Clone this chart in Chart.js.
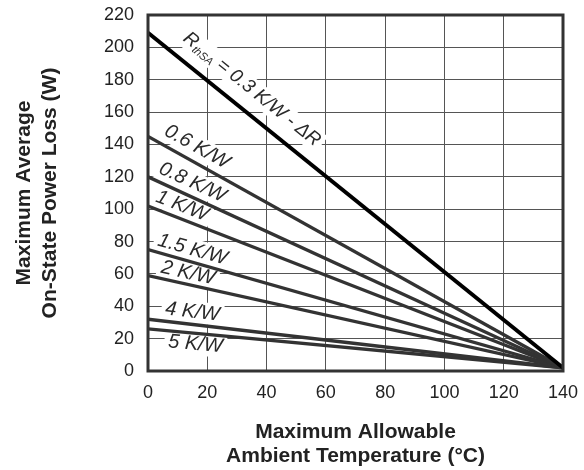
<!DOCTYPE html>
<html>
<head>
<meta charset="utf-8">
<script src="https://cdn.jsdelivr.net/npm/chart.js@4.4.1/dist/chart.umd.min.js"></script>
<style>
  html, body { margin: 0; padding: 0; background: #fff; }
  canvas { display: block; }
</style>
</head>
<body>
<canvas id="lossChart" width="584" height="470"></canvas>
<script>
// ambient temperature end points (°C)
const temps = [0, 140];
// heatsink thermal resistance of each curve (K/W)
const resistances = ['0.3', '0.6', '0.8', '1', '1.5', '2', '4', '5'];
// power loss at 0 °C and at 140 °C for each curve (W)
const powerAtStart = [209, 145, 120, 102, 75, 59, 32, 26];
const powerAtEnd = [2, 2, 2, 2, 2, 2, 2, 2];
const xTicks = [0, 20, 40, 60, 80, 100, 120, 140];
const yTicks = [0, 20, 40, 60, 80, 100, 120, 140, 160, 180, 200, 220];

// where each curve label sits (data coords of the label centre)
const labelSpots = [
  { x: 35, y: 174 },
  { x: 16.5, y: 138.5 },
  { x: 15, y: 116.5 },
  { x: 11.5, y: 102 },
  { x: 15, y: 75 },
  { x: 13.5, y: 60.5 },
  { x: 15, y: 36.5 },
  { x: 16, y: 16.5 }
];

const FONT = '"Liberation Sans", Arial, Helvetica, sans-serif';

const datasets = resistances.map((r, i) => ({
  label: r + ' K/W',
  data: temps.map((t, j) => ({ x: t, y: j === 0 ? powerAtStart[i] : powerAtEnd[i] })),
  showLine: true,
  borderColor: i === 0 ? '#000' : '#333',
  borderWidth: i === 0 ? 4 : 3.3,
  pointRadius: 0,
  fill: false
}));

function labelGeometry(chart, i) {
  const xs = chart.scales.x, ys = chart.scales.y;
  const x0 = xs.getPixelForValue(temps[0]), y0 = ys.getPixelForValue(powerAtStart[i]);
  const x1 = xs.getPixelForValue(temps[1]), y1 = ys.getPixelForValue(powerAtEnd[i]);
  return {
    cx: xs.getPixelForValue(labelSpots[i].x),
    cy: ys.getPixelForValue(labelSpots[i].y),
    angle: Math.atan2(y1 - y0, x1 - x0)
  };
}

// draws the text of label i centred on 0,0 and returns its width
function drawLabelText(ctx, i, measureOnly) {
  let parts;
  if (i === 0) {
    const big = 'italic 19px ' + FONT;
    parts = [
      { t: 'R', f: big, dy: 0 },
      { t: 'thSA', f: 'italic 11px ' + FONT, dy: 5 },
      { t: ' = ' + resistances[0] + ' K/W - \u0394R', f: big, dy: 0 }
    ];
  } else {
    parts = [{ t: resistances[i] + ' K/W', f: 'italic 20px ' + FONT, dy: 0 }];
  }
  let w = 0;
  parts.forEach(p => { ctx.font = p.f; w += ctx.measureText(p.t).width; });
  if (measureOnly) return w;
  let x = -w / 2;
  ctx.fillStyle = '#2a2a2a';
  ctx.textBaseline = 'middle';
  ctx.textAlign = 'left';
  parts.forEach(p => {
    ctx.font = p.f;
    ctx.fillText(p.t, x, p.dy);
    x += ctx.measureText(p.t).width;
  });
  return w;
}

const curveLabels = {
  id: 'curveLabels',
  beforeDatasetsDraw(chart) {
    const ctx = chart.ctx;
    // white boxes knock out the grid behind each label
    resistances.forEach((r, i) => {
      const g = labelGeometry(chart, i);
      const w = drawLabelText(ctx, i, true);
      ctx.save();
      ctx.translate(g.cx, g.cy);
      ctx.rotate(g.angle);
      ctx.fillStyle = '#fff';
      ctx.fillRect(-w / 2 - 4, -11, w + 8, 22);
      ctx.restore();
    });
  },
  afterDatasetsDraw(chart) {
    const ctx = chart.ctx;
    resistances.forEach((r, i) => {
      const g = labelGeometry(chart, i);
      ctx.save();
      ctx.translate(g.cx, g.cy);
      ctx.rotate(g.angle);
      drawLabelText(ctx, i, false);
      ctx.restore();
    });
    const a = chart.chartArea;
    ctx.save();
    ctx.strokeStyle = '#333';
    ctx.lineWidth = 3;
    ctx.strokeRect(a.left, a.top, a.right - a.left, a.bottom - a.top);
    ctx.restore();
  }
};

new Chart(document.getElementById('lossChart'), {
  type: 'scatter',
  data: { datasets: datasets },
  options: {
    responsive: false,
    animation: false,
    layout: { padding: { top: 15, right: 21, left: 0, bottom: 0 } },
    plugins: { legend: { display: false }, tooltip: { enabled: false } },
    scales: {
      x: {
        type: 'linear',
        min: 0,
        max: 140,
        afterBuildTicks: s => { s.ticks = xTicks.map(v => ({ value: v })); },
        afterFit: s => {
          s.height = 99;
          s.paddingLeft = 0;
          s.paddingRight = 0;
        },
        ticks: { font: { family: FONT, size: 18 }, color: '#222', padding: 11 },
        grid: { color: '#555', lineWidth: 1, drawTicks: false },
        border: { display: false },
        title: {
          display: true,
          text: ['Maximum Allowable', 'Ambient Temperature (\u00b0C)'],
          font: { family: FONT, size: 21, weight: 'bold', lineHeight: 1.15 },
          color: '#222',
          padding: { top: 20, bottom: 2 }
        }
      },
      y: {
        type: 'linear',
        min: 0,
        max: 220,
        afterBuildTicks: s => { s.ticks = yTicks.map(v => ({ value: v })); },
        afterFit: s => {
          s.width = 148;
          s.paddingTop = 0;
          s.paddingBottom = 0;
        },
        ticks: { font: { family: FONT, size: 18 }, color: '#222', padding: 14 },
        grid: { color: '#555', lineWidth: 1, drawTicks: false },
        border: { display: false },
        title: {
          display: true,
          text: ['Maximum Average', 'On-State Power Loss (W)'],
          font: { family: FONT, size: 21, weight: 'bold', lineHeight: 1.2 },
          color: '#222',
          padding: { top: 12, bottom: 10 }
        }
      }
    }
  },
  plugins: [curveLabels]
});
</script>
</body>
</html>
